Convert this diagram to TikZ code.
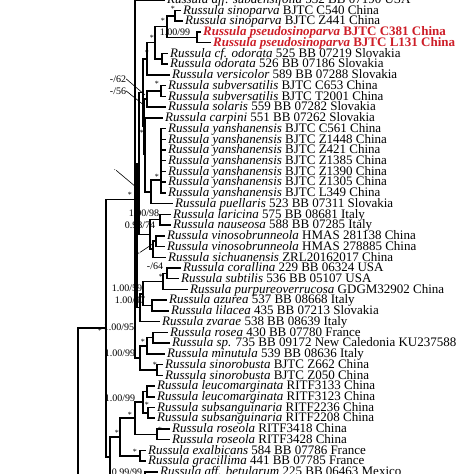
\documentclass[tikz,border=0pt]{standalone}
\usepackage{fontspec}
\setmainfont{Liberation Serif}
\usetikzlibrary{positioning}
\definecolor{newsp}{RGB}{205,30,40}

\tikzset{
  branch/.style={line width=1.5pt},
  taxon/.style={anchor=west, inner xsep=2pt, inner ysep=0pt,
    font=\fontsize{13}{13}\selectfont, text height=8.75pt, text depth=1.25pt},
  newtaxon/.style={taxon, text=newsp, font=\fontsize{13}{13}\selectfont\bfseries},
  support/.style={font=\fontsize{10}{10}\selectfont, inner sep=0pt},
  star/.style={font=\fontsize{8}{8}\selectfont, inner sep=0pt},
  pointer/.style={line width=0.6pt}
}

\begin{document}
\begin{tikzpicture}[x=1pt, y=-10.73pt]
\useasboundingbox (0,0.021) rectangle (474,44.2);

% taxa
\node[taxon] (l0) at (165,0) {\textit{Russula aff. subdensifolia} 532 BB 07190 USA};
\node[taxon] (l1) at (181,1) {\textit{Russula sinoparva} BJTC C540 China};
\node[taxon] (l2) at (183,2) {\textit{Russula sinoparva} BJTC Z441 China};
\node[newtaxon] (l3) at (201,3) {\textit{Russula pseudosinoparva} BJTC C381 China};
\node[newtaxon] (l4) at (211,4) {\textit{Russula pseudosinoparva} BJTC L131 China};
\node[taxon] (l5) at (168,5) {\textit{Russula cf. odorata} 525 BB 07219 Slovakia};
\node[taxon] (l6) at (168,6) {\textit{Russula odorata} 526 BB 07186 Slovakia};
\node[taxon] (l7) at (170,7) {\textit{Russula versicolor} 589 BB 07288 Slovakia};
\node[taxon] (l8) at (166,8) {\textit{Russula subversatilis} BJTC C653 China};
\node[taxon] (l9) at (166,9) {\textit{Russula subversatilis} BJTC T2001 China};
\node[taxon] (l10) at (166,10) {\textit{Russula solaris} 559 BB 07282 Slovakia};
\node[taxon] (l11) at (163,11) {\textit{Russula carpini} 551 BB 07262 Slovakia};
\node[taxon] (l12) at (166,12) {\textit{Russula yanshanensis} BJTC C561 China};
\node[taxon] (l13) at (166,13) {\textit{Russula yanshanensis} BJTC Z1448 China};
\node[taxon] (l14) at (166,14) {\textit{Russula yanshanensis} BJTC Z421 China};
\node[taxon] (l15) at (166,15) {\textit{Russula yanshanensis} BJTC Z1385 China};
\node[taxon] (l16) at (166,16) {\textit{Russula yanshanensis} BJTC Z1390 China};
\node[taxon] (l17) at (166,17) {\textit{Russula yanshanensis} BJTC Z1305 China};
\node[taxon] (l18) at (166,18) {\textit{Russula yanshanensis} BJTC L349 China};
\node[taxon] (l19) at (173,19) {\textit{Russula puellaris} 523 BB 07311 Slovakia};
\node[taxon] (l20) at (171,20) {\textit{Russula laricina} 575 BB 08681 Italy};
\node[taxon] (l21) at (171,21) {\textit{Russula nauseosa} 588 BB 07285 Italy};
\node[taxon] (l22) at (165,22) {\textit{Russula vinosobrunneola} HMAS 281138 China};
\node[taxon] (l23) at (165,23) {\textit{Russula vinosobrunneola} HMAS 278885 China};
\node[taxon] (l24) at (166,24) {\textit{Russula sichuanensis} ZRL20162017 China};
\node[taxon] (l25) at (181,25) {\textit{Russula corallina} 229 BB 06324 USA};
\node[taxon] (l26) at (179,26) {\textit{Russula subtilis} 536 BB 05107 USA};
\node[taxon] (l27) at (188,27) {\textit{Russula purpureoverrucosa} GDGM32902 China};
\node[taxon] (l28) at (167,28) {\textit{Russula azurea} 537 BB 08668 Italy};
\node[taxon] (l29) at (169,29) {\textit{Russula lilacea} 435 BB 07213 Slovakia};
\node[taxon] (l30) at (160,30) {\textit{Russula zvarae} 538 BB 08639 Italy};
\node[taxon] (l31) at (168,31) {\textit{Russula rosea} 430 BB 07780 France};
\node[taxon] (l32) at (170,32) {\textit{Russula sp.} 735 BB 09172 New Caledonia KU237588};
\node[taxon] (l33) at (165,33) {\textit{Russula minutula} 539 BB 08636 Italy};
\node[taxon] (l34) at (163,34) {\textit{Russula sinorobusta} BJTC Z662 China};
\node[taxon] (l35) at (163,35) {\textit{Russula sinorobusta} BJTC Z050 China};
\node[taxon] (l36) at (155,36) {\textit{Russula leucomarginata} RITF3133 China};
\node[taxon] (l37) at (155,37) {\textit{Russula leucomarginata} RITF3123 China};
\node[taxon] (l38) at (155,38) {\textit{Russula subsanguinaria} RITF2236 China};
\node[taxon] (l39) at (155,39) {\textit{Russula subsanguinaria} RITF2208 China};
\node[taxon] (l40) at (170,40) {\textit{Russula roseola} RITF3418 China};
\node[taxon] (l41) at (170,41) {\textit{Russula roseola} RITF3428 China};
\node[taxon] (l42) at (146,42) {\textit{Russula exalbicans} 584 BB 07786 France};
\node[taxon] (l43) at (146,43) {\textit{Russula gracillima} 441 BB 07785 France};
\node[taxon] (l44) at (158,44) {\textit{Russula aff. betularum} 225 BB 06463 Mexico};

% internal nodes
\coordinate (s1) at (175,1.5);
\coordinate (s2) at (197,3.5);
\coordinate (s12) at (167,2.5);
\coordinate (od) at (162,5.5);
\coordinate (s12o) at (155,4);
\coordinate (vs) at (147,5.5);
\coordinate (su) at (161,8.5);
\coordinate (sus) at (147,9.25);
\coordinate (ya) at (161,16.8);
\coordinate (yp) at (151,17.9);
\coordinate (a3) at (145,14.4);
\coordinate (a2) at (144,11.8);
\coordinate (a1) at (143,8.65);
\coordinate (ln) at (160,20.5);
\coordinate (vb) at (156,22.5);
\coordinate (vbs) at (153,23.25);
\coordinate (lnv) at (150,21.9);
\coordinate (bb) at (139,15.3);
\coordinate (cs) at (167,25.5);
\coordinate (csp) at (163,26.25);
\coordinate (al) at (152,28.5);
\coordinate (cspal) at (143,27.4);
\coordinate (cz) at (140,28.7);
\coordinate (t2) at (137,22);
\coordinate (rs) at (153,31.5);
\coordinate (rsm) at (147,32.25);
\coordinate (sr) at (157,34.5);
\coordinate (rsr) at (140,33.4);
\coordinate (tt) at (135,18.6);
\coordinate (lm) at (147,36.5);
\coordinate (ss) at (148,38.5);
\coordinate (lmss) at (143,37.5);
\coordinate (ro) at (157,40.5);
\coordinate (r2) at (135,39);
\coordinate (eg) at (140,42.5);
\coordinate (lse) at (120,40.75);
\coordinate (bat) at (145,45);
\coordinate (lb) at (110,42.6);
\coordinate (n106) at (106,30.6);
\coordinate (n78) at (78,46);

% branches
\draw[branch] (s1) |- (l1.west) (s1) |- (l2.west);
\draw[branch] (s2) |- (l3.west) (s2) |- (l4.west);
\draw[branch] (s12) |- (s1) (s12) |- (s2);
\draw[branch] (od) |- (l5.west) (od) |- (l6.west);
\draw[branch] (s12o) |- (s12) (s12o) |- (od);
\draw[branch] (vs) |- (s12o) (vs) |- (l7.west);
\draw[branch] (su) |- (l8.west) (su) |- (l9.west);
\draw[branch] (sus) |- (su) (sus) |- (l10.west);
\draw[branch] (ya) |- (l12.west) (ya) |- (l13.west) (ya) |- (l14.west)
  (ya) |- (l15.west) (ya) |- (l16.west) (ya) |- (l17.west) (ya) |- (l18.west);
\draw[branch] (yp) |- (ya) (yp) |- (l19.west);
\draw[branch] (a3) |- (l11.west) (a3) |- (yp);
\draw[branch] (a2) |- (sus) (a2) |- (a3);
\draw[branch] (a1) |- (vs) (a1) |- (a2);
\draw[branch] (ln) |- (l20.west) (ln) |- (l21.west);
\draw[branch] (vb) |- (l22.west) (vb) |- (l23.west);
\draw[branch] (vbs) |- (vb) (vbs) |- (l24.west);
\draw[branch] (lnv) |- (ln) (lnv) |- (vbs);
\draw[branch] (bb) |- (a1) (bb) |- (lnv);
\draw[branch] (cs) |- (l25.west) (cs) |- (l26.west);
\draw[branch] (csp) |- (cs) (csp) |- (l27.west);
\draw[branch] (al) |- (l28.west) (al) |- (l29.west);
\draw[branch] (cspal) |- (csp) (cspal) |- (al);
\draw[branch] (cz) |- (cspal) (cz) |- (l30.west);
\draw[branch] (t2) |- (bb) (t2) |- (cz);
\draw[branch] (rs) |- (l31.west) (rs) |- (l32.west);
\draw[branch] (rsm) |- (rs) (rsm) |- (l33.west);
\draw[branch] (sr) |- (l34.west) (sr) |- (l35.west);
\draw[branch] (rsr) |- (rsm) (rsr) |- (sr);
\draw[branch] (tt) |- (l0.west) (tt) |- (t2) (tt) |- (rsr);
\draw[branch] (lm) |- (l36.west) (lm) |- (l37.west);
\draw[branch] (ss) |- (l38.west) (ss) |- (l39.west);
\draw[branch] (lmss) |- (lm) (lmss) |- (ss);
\draw[branch] (ro) |- (l40.west) (ro) |- (l41.west);
\draw[branch] (r2) |- (lmss) (r2) |- (ro);
\draw[branch] (eg) |- (l42.west) (eg) |- (l43.west);
\draw[branch] (lse) |- (r2) (lse) |- (eg);
\draw[branch] (bat) |- (l44.west);
\draw[branch] (lb) |- (lse) (lb) |- (bat);
\draw[branch] (n106) |- (tt) (n106) |- (lb);
\draw[branch] (n78) |- (n106);

% support values
\node[star] at (173,0.86) {*};
\node[star] at (163,1.98) {*};
\node[star] at (152,3.56) {*};
\node[star] at (147,4.96) {*};
\node[star] at (157,7.85) {*};
\node[star] at (142,12.4) {*};
\node[star] at (157,16.5) {*};
\node[star] at (130,18.2) {*};
\node[star] at (161,25.8) {*};
\node[star] at (143,31.9) {*};
\node[star] at (155,34.0) {*};
\node[star] at (147,37.8) {*};
\node[star] at (160,40.1) {*};
\node[star] at (130,38.7) {*};
\node[star] at (117,40.4) {*};
\node[star] at (135,42.1) {*};
\node[star] at (100,30.9) {*};
\node[support] at (175,3.0) {1.00/99};
\node[support] (p62) at (118,7.38) {-/62};
\node[support] (p56) at (118,8.5) {-/56};
\node[star] (pdot) at (115,15.9) {.};
\node[star] (pvb) at (138,23.8) {*};
\node[support] at (144,19.87) {1.00/98};
\node[support] at (140,20.99) {0.98/74};
\node[support] at (155,24.8) {-/64};
\node[support] at (127,26.86) {1.00/59};
\node[support] at (130,27.98) {1.00/97};
\node[support] at (119,30.5) {1.00/95};
\node[support] at (120,32.9) {1.00/99};
\node[support] at (120,37.1) {1.00/99};
\node[support] at (127,44.0) {0.99/99};
\draw[pointer] (p62.east) -- (145,8.87);
\draw[pointer] (p56.east) -- (145,9.9);
\draw[pointer] (pdot.east) -- (136,17.45);
\draw[pointer] (pvb.north east) -- (152,22.8);
\end{tikzpicture}
\end{document}
